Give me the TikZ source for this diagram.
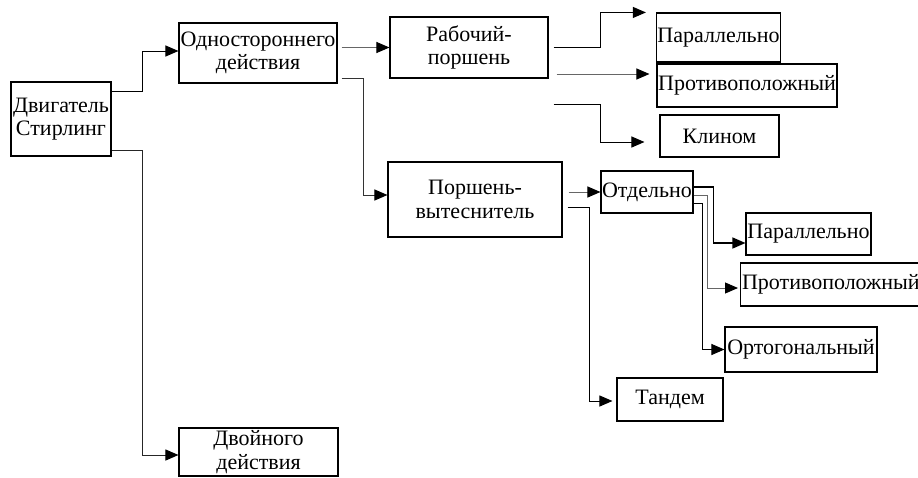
\documentclass[tikz,border=0pt]{standalone}
\usepackage{fontspec}
\setmainfont{Liberation Serif}
\usetikzlibrary{arrows.meta}
\begin{document}
\begin{tikzpicture}[x=1pt,y=1pt,
  box/.style={draw=black, line width=1.1pt, inner sep=1pt, align=center,
    font=\fontsize{22}{23.5}\selectfont},
  conn/.style={line width=1pt, -{Triangle[length=13pt,width=11pt,color=black]}},
  gconn/.style={conn, draw=black!60},
]
\useasboundingbox (0,0) rectangle (918,-477);
% nodes
\node[box, minimum width=100pt, minimum height=74pt] (dv) at (61,-119) {Двигатель\\Стирлинг};
\node[box, minimum width=158pt, minimum height=60pt] (od) at (258,-53) {Одностороннего\\действия};
\node[box, minimum width=159pt, minimum height=48pt] (dd) at (258.5,-452) {Двойного\\действия};
\node[box, minimum width=158pt, minimum height=61pt] (rp) at (469,-47.5) {Рабочий-\\поршень};
\node[box, minimum width=174pt, minimum height=75pt] (pv) at (475,-199.5) {Поршень-\\вытеснитель};
\node[box, minimum width=123pt, minimum height=49pt] (p1) at (718.5,-37.5) {Параллельно};
\node[box, minimum width=180pt, minimum height=43pt] (pr1) at (747,-85.5) {Противоположный};
\node[box, minimum width=119pt, minimum height=42pt] (kl) at (719.5,-136) {Клином};
\node[box, minimum width=92pt, minimum height=42pt] (ot) at (647,-192) {Отдельно};
\node[box, minimum width=125pt, minimum height=42pt] (p2) at (808.5,-234) {Параллельно};
\node[box, minimum width=180pt, minimum height=43pt, anchor=west, inner xsep=0.5pt, text width=177pt, align=left] (pr2) at (740,-284.5) {Противоположный};
\node[box, minimum width=152pt, minimum height=45pt] (org) at (801,-349.5) {Ортогональный};
\node[box, minimum width=106pt, minimum height=43pt] (td) at (670,-399.5) {Тандем};
% connectors
\draw[conn] ([yshift=28pt]dv.east) -- ++(31,0) |- ([yshift=2pt]od.west);
\draw[conn, draw=black!85] ([yshift=-31pt]dv.east) -- ++(31,0) |- ([yshift=-3pt]dd.west);
\draw[gconn] ([xshift=4pt]od.east |- rp.west) -- (rp.west);
\draw[conn, draw=black!80] ([xshift=4pt,yshift=-25pt]od.east) -- ++(22,0) |- ([yshift=4.5pt]pv.west);
\draw[conn] ([xshift=5pt]rp.east) -- ++(47,0) |- ([xshift=-10pt]p1.north west);
\draw[gconn] ([xshift=8pt,yshift=-26.5pt]rp.east) -- ([xshift=-7pt,yshift=11.5pt]pr1.west);
\draw[conn] ([xshift=5pt,yshift=-56.5pt]rp.east) -- ++(47,0) |- ([xshift=-15pt,yshift=-6pt]kl.west);
\draw[gconn] ([xshift=6pt]pv.east |- ot.west) -- (ot.west);
\draw[conn] ([xshift=5pt,yshift=-7.5pt]pv.east) -- ++(22,0) |- ([xshift=-4pt,yshift=-1.5pt]td.west);
\draw[conn, line width=1.4pt] ([yshift=5pt]ot.east) -- ++(20,0) |- ([yshift=-9pt]p2.west);
\draw[gconn] ([yshift=-3pt]ot.east) -- ++(14,0) |- ([xshift=-2pt,yshift=-3.5pt]pr2.west);
\draw[conn] ([yshift=-11pt]ot.east) -- ++(9,0) |- (org.west);
\end{tikzpicture}
\end{document}
